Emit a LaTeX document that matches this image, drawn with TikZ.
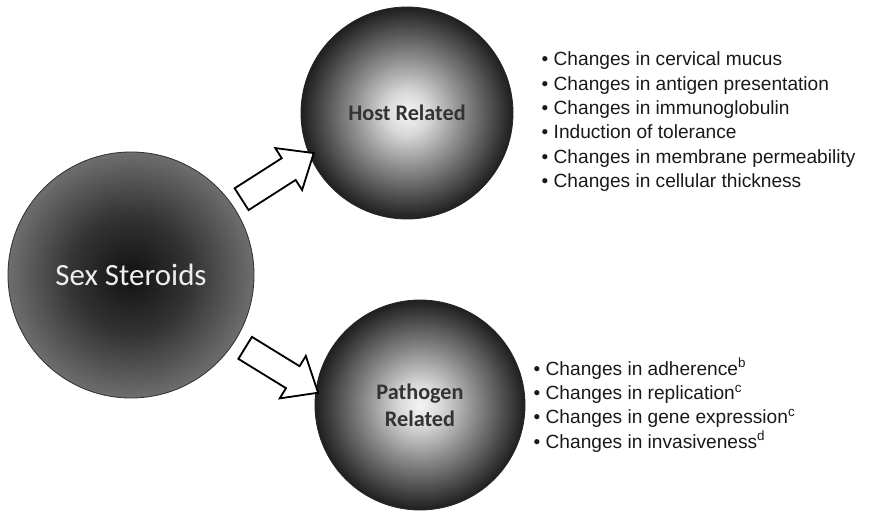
\documentclass[tikz,border=0pt]{standalone}
\usepackage{fontspec}
\setmainfont{Liberation Sans}
\newfontfamily\calibri{Carlito}
\usepackage{xcolor}
\usepackage{tikz}
\usetikzlibrary{shapes.arrows, positioning, calc}

\pgfdeclareradialshading{darkball}{\pgfpoint{0bp}{0bp}}{color(0bp)=(black!93); color(12bp)=(black!80); color(25bp)=(black!57); color(50bp)=(black!57)}
\pgfdeclareradialshading{lightball}{\pgfpoint{0bp}{0bp}}{color(0bp)=(black!4); color(5bp)=(black!15); color(13bp)=(black!45); color(20bp)=(black!70); color(25bp)=(black!88); color(50bp)=(black!88)}

\begin{document}
\begin{tikzpicture}[
        % Define styles for the circles
        big_circle/.style={circle, draw=black!80, line width=0.6pt, shading=darkball, minimum size=6.15cm, align=center, font=\calibri\fontsize{22}{26}\selectfont, text=white!93!black},
        small_circle/.style={circle, draw=black!85, line width=0.6pt, shading=lightball, minimum size=5.3cm, align=center, font=\calibri\bfseries\fontsize{15.8}{19}\selectfont, text=black!80},
        list_node/.style={align=left, inner sep=0pt, font=\fontsize{13.6}{17.3}\selectfont, text=black!90},
        % Style for the block arrows
        hollow_arrow/.style={single arrow, draw=black, fill=white, line width=1.3pt, minimum height=2.14cm, inner sep=0.3cm, single arrow head extend=0.3cm, single arrow tip angle=80}
    ]
    \useasboundingbox (0,0) rectangle (21.9,-12.85);

    % =========================================================================
    % CIRCLES
    % =========================================================================
    \node (steroids) [big_circle] at (3.275,-6.875) {Sex Steroids};

    \node (host) [small_circle] at (10.175,-2.825) {Host Related};

    \node (pathogen) [small_circle, minimum size=5.25cm] at (10.5,-10.125) {Pathogen\\Related};

    % =========================================================================
    % BLOCK ARROWS
    % =========================================================================
    \node (arrow_host) [hollow_arrow, rotate=32.6] at ($(steroids.34.7)!0.5!(host.203.4)$) {};

    \node (arrow_pathogen) [hollow_arrow, rotate=-31.6] at ($(steroids.-33.8)!0.5!(pathogen.172.7)$) {};

    % =========================================================================
    % LISTS
    % =========================================================================
    \node (host_list) [list_node, right=0.7cm of host, yshift=-0.22cm]
        {• Changes in cervical mucus\\
         • Changes in antigen presentation\\
         • Changes in immunoglobulin\\
         • Induction of tolerance\\
         • Changes in membrane permeability\\
         • Changes in cellular thickness};

    \node (pathogen_list) [list_node, right=0.2cm of pathogen]
        {• Changes in adherence\textsuperscript{b}\\
         • Changes in replication\textsuperscript{c}\\
         • Changes in gene expression\textsuperscript{c}\\
         • Changes in invasiveness\textsuperscript{d}};

\end{tikzpicture}
\end{document}
